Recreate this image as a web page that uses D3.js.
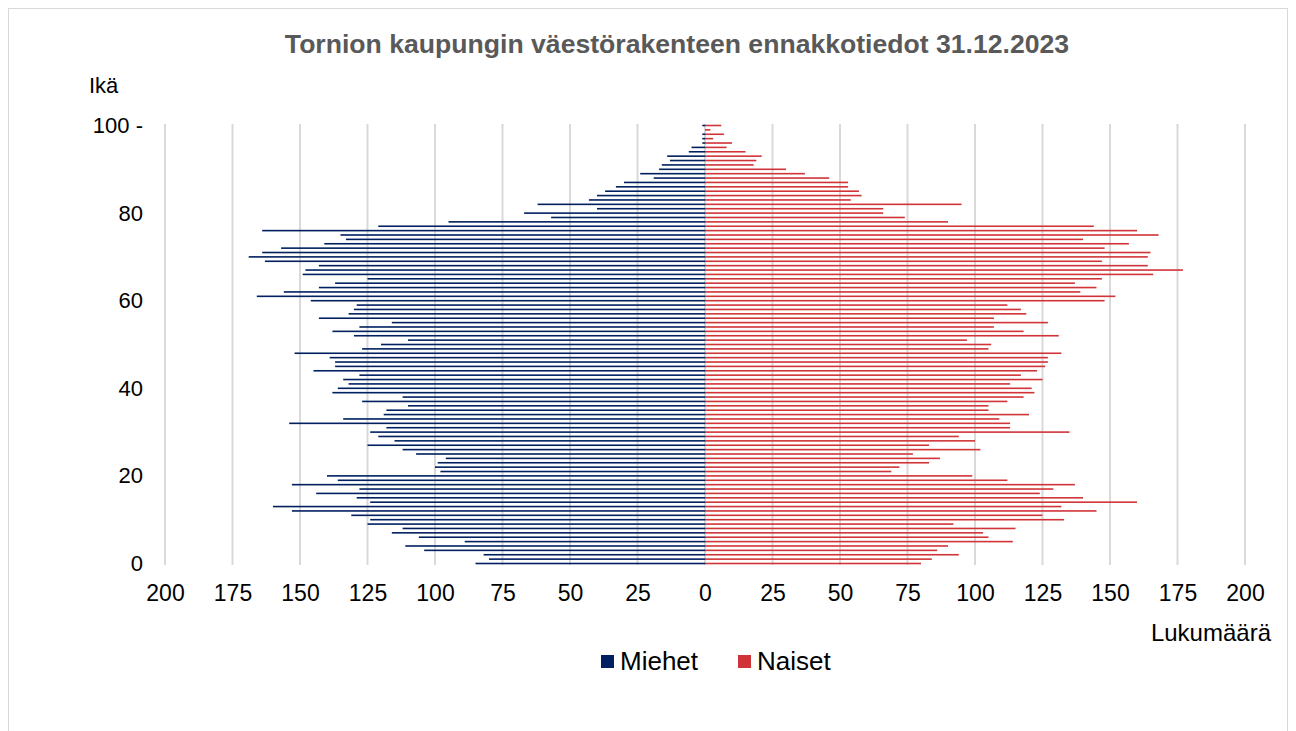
<!DOCTYPE html>
<html>
<head>
<meta charset="utf-8">
<script src="https://cdn.jsdelivr.net/npm/d3@7"></script>
<style>
  body { margin: 0; background: #fff; }
  svg { font-family: 'Liberation Sans', Arial, sans-serif; }
</style>
</head>
<body>
<svg></svg>
<script>
// ages 0..100, counts per age
let ages = d3.range(0, 101);
let men = [85, 80, 82, 104, 111, 89, 106, 116, 112, 125,
    124, 131, 153, 160, 124, 129, 144, 128, 153, 136,
    140, 98, 100, 99, 96, 107, 112, 125, 115, 121,
    124, 118, 154, 134, 119, 118, 110, 127, 112, 138,
    136, 132, 134, 128, 145, 137, 137, 139, 152, 127,
    120, 110, 130, 138, 128, 116, 143, 132, 130, 129,
    146, 166, 156, 143, 137, 125, 149, 148, 143, 163,
    169, 164, 157, 141, 133, 135, 164, 121, 95, 57,
    67, 40, 62, 43, 40, 37, 33, 30, 19, 24,
    17, 16, 13, 14, 6, 5, 1, 1, 1, 0,
    1];
let women = [80, 84, 94, 86, 90, 114, 105, 103, 115, 92,
    133, 125, 145, 132, 160, 140, 124, 129, 137, 112,
    99, 69, 72, 83, 87, 77, 102, 83, 100, 94,
    135, 113, 113, 109, 120, 105, 105, 112, 118, 122,
    121, 113, 125, 117, 123, 126, 127, 127, 132, 105,
    106, 97, 131, 118, 107, 127, 107, 119, 117, 112,
    148, 152, 139, 145, 137, 147, 166, 177, 164, 147,
    164, 165, 148, 157, 140, 168, 160, 144, 90, 74,
    66, 66, 95, 54, 58, 57, 53, 53, 46, 37,
    30, 18, 19, 21, 15, 8, 10, 3, 7, 2,
    6];
let xTicks = d3.range(-200, 201, 25);
let yTicks = [0, 20, 40, 60, 80, 100];
let series = ['Miehet', 'Naiset'];
let colors = ['#002060', '#d13438'];

let width = 1296;
let height = 731;

let svg = d3.select('svg')
    .attr('width', width)
    .attr('height', height);

// outer chart border
svg.append('rect')
    .attr('x', 8.5).attr('y', 8.5)
    .attr('width', 1279).attr('height', 760)
    .attr('fill', '#fff')
    .attr('stroke', '#d9d9d9');

let xScale = d3.scaleLinear().domain([-200, 200]).range([165, 1245]);
let yScale = d3.scaleLinear().domain([0, 100]).range([563.5, 125.5]);

// gridlines
svg.append('g')
    .selectAll('line')
    .data(xTicks)
    .enter()
    .append('line')
    .attr('x1', d => xScale(d)).attr('x2', d => xScale(d))
    .attr('y1', 124).attr('y2', 565)
    .attr('stroke', '#d9d9d9')
    .attr('stroke-width', 2);

let barH = 1.6;

svg.append('g')
    .selectAll('rect')
    .data(ages)
    .enter()
    .append('rect')
    .attr('x', (d, i) => xScale(-men[i]))
    .attr('y', d => yScale(d) - barH / 2)
    .attr('width', (d, i) => xScale(0) - xScale(-men[i]))
    .attr('height', barH)
    .attr('fill', colors[0]);

svg.append('g')
    .selectAll('rect')
    .data(ages)
    .enter()
    .append('rect')
    .attr('x', xScale(0))
    .attr('y', d => yScale(d) - barH / 2)
    .attr('width', (d, i) => xScale(women[i]) - xScale(0))
    .attr('height', barH)
    .attr('fill', colors[1]);

// axes (labels only)
let xAxis = d3.axisBottom(xScale)
    .tickValues(xTicks)
    .tickSize(0)
    .tickPadding(10)
    .tickFormat(d => Math.abs(d));
svg.append('g')
    .attr('transform', 'translate(0,575)')
    .call(xAxis)
    .call(g => g.select('.domain').remove())
    .selectAll('text')
    .attr('font-size', 23)
    .attr('font-family', 'Liberation Sans, Arial, sans-serif')
    .attr('fill', '#000');

let yAxis = d3.axisLeft(yScale)
    .tickValues(yTicks)
    .tickSize(0)
    .tickPadding(22)
    .tickFormat(d => d == 100 ? '100 -' : d);
svg.append('g')
    .attr('transform', 'translate(165,0)')
    .call(yAxis)
    .call(g => g.select('.domain').remove())
    .selectAll('text')
    .attr('font-size', 22)
    .attr('font-family', 'Liberation Sans, Arial, sans-serif')
    .attr('fill', '#000');

// titles
svg.append('text')
    .attr('x', 677).attr('y', 53)
    .attr('text-anchor', 'middle')
    .attr('font-size', 26.6)
    .attr('font-weight', 'bold')
    .attr('fill', '#595959')
    .text('Tornion kaupungin väestörakenteen ennakkotiedot 31.12.2023');

svg.append('text')
    .attr('x', 89).attr('y', 93)
    .attr('font-size', 22)
    .text('Ikä');

svg.append('text')
    .attr('x', 1271).attr('y', 641)
    .attr('text-anchor', 'end')
    .attr('font-size', 24)
    .text('Lukumäärä');

// legend
let legend = svg.append('g')
    .selectAll('g')
    .data(series)
    .enter()
    .append('g')
    .attr('transform', (d, i) => 'translate(' + [601, 738][i] + ',655)');
legend.append('rect')
    .attr('width', 13).attr('height', 13)
    .attr('fill', (d, i) => colors[i]);
legend.append('text')
    .attr('x', 19).attr('y', 15)
    .attr('font-size', 26)
    .text(d => d);
</script>
</body>
</html>
